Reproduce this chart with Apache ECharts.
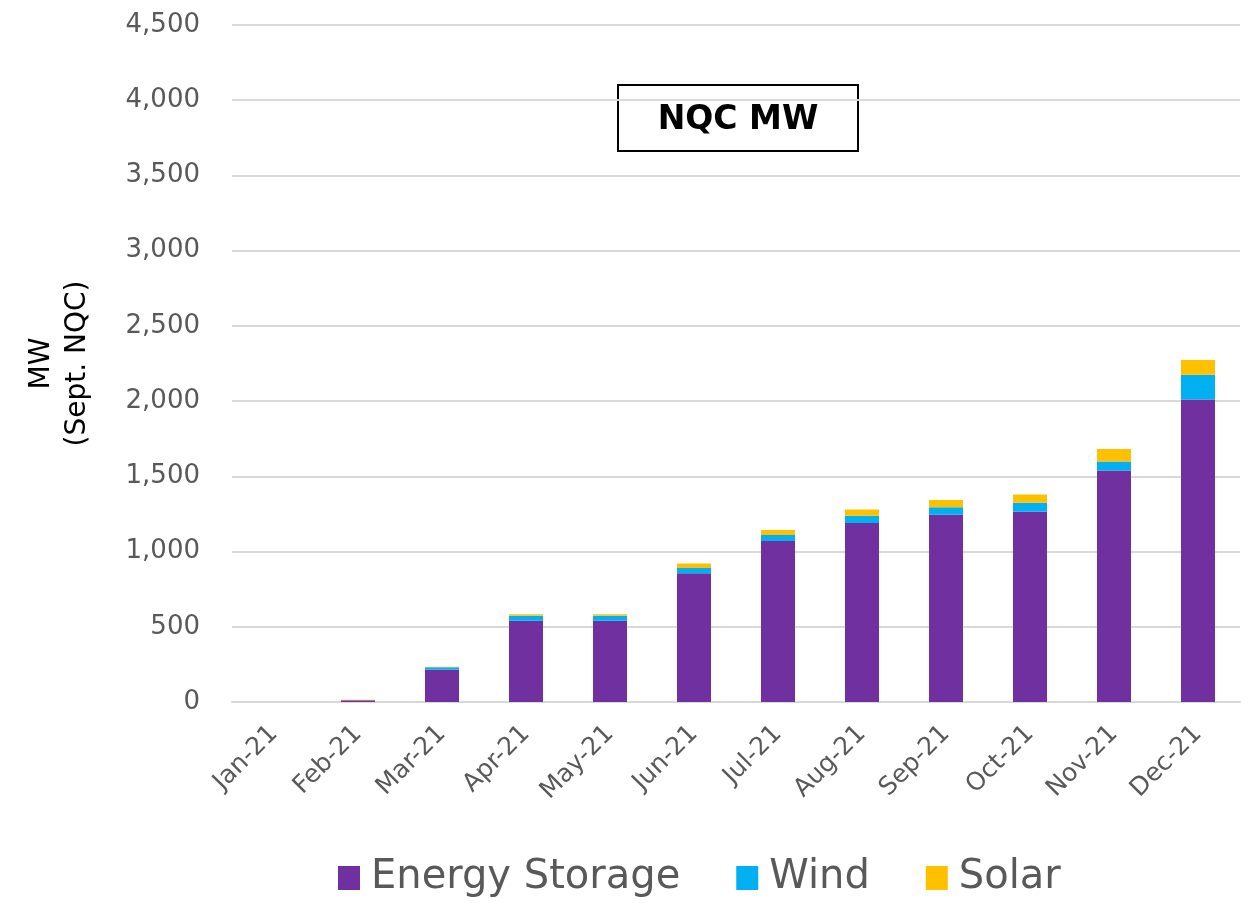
<!DOCTYPE html>
<html>
<head>
<meta charset="utf-8">
<script src="https://cdn.jsdelivr.net/npm/echarts@6/dist/echarts.min.js"></script>
<style>
  html, body { margin: 0; padding: 0; background: #fff; }
  #main { width: 1255px; height: 903px; }
</style>
</head>
<body>
<div id="main"></div>
<script>
// months on the x axis
const months = ['Jan-21', 'Feb-21', 'Mar-21', 'Apr-21', 'May-21', 'Jun-21',
  'Jul-21', 'Aug-21', 'Sep-21', 'Oct-21', 'Nov-21', 'Dec-21']
// stacked NQC MW by resource type
const energyStorage = [0, 12, 215, 540, 540, 855, 1070, 1190, 1245, 1265, 1538, 2010]
const wind = [0, 0, 16, 33, 33, 35, 40, 48, 50, 60, 60, 166]
const solar = [0, 3, 4, 10, 10, 30, 33, 42, 47, 55, 84, 98]

const fontFam = '"DejaVu Sans", sans-serif'
const gray = '#595959'

function barSeries(name, data, color) {
  return {
    name: name,
    type: 'bar',
    stack: 'total',
    data: data,
    barWidth: 34,
    itemStyle: { color: color },
    emphasis: { disabled: true }
  }
}

const chart = echarts.init(document.getElementById('main'))
chart.setOption({
  animation: false,
  grid: { left: 232, right: 15, top: 25, bottom: 201, containLabel: false },
  legend: {
    bottom: 0,
    left: 333,
    icon: 'rect',
    itemWidth: 22,
    itemHeight: 24,
    itemGap: 56,
    textStyle: { fontFamily: fontFam, fontSize: 40, color: gray, padding: [0, 0, 0, 6] },
    data: ['Energy Storage', 'Wind', 'Solar']
  },
  xAxis: {
    type: 'category',
    data: months,
    axisLine: { lineStyle: { color: '#d9d9d9', width: 2 } },
    axisTick: { length: 10, lineStyle: { color: '#d9d9d9', width: 2 } },
    axisLabel: {
      rotate: 45,
      fontFamily: fontFam,
      fontSize: 25,
      color: gray,
      margin: 28
    }
  },
  yAxis: {
    type: 'value',
    min: 0,
    max: 4500,
    interval: 500,
    name: 'MW\n(Sept. NQC)',
    nameLocation: 'middle',
    nameGap: 136,
    nameRotate: 90,
    nameTextStyle: { fontFamily: fontFam, fontSize: 28, color: '#000', lineHeight: 36 },
    axisLine: { show: false },
    axisTick: { show: false },
    splitLine: { lineStyle: { color: '#d9d9d9', width: 2 } },
    axisLabel: {
      fontFamily: fontFam,
      fontSize: 26,
      color: gray,
      margin: 32,
      formatter: v => v.toLocaleString('en-US')
    }
  },
  graphic: [{
    type: 'group',
    left: 617,
    top: 84,
    children: [
      {
        type: 'rect',
        shape: { x: 0, y: 0, width: 240, height: 66 },
        style: { fill: '#fff', stroke: '#000', lineWidth: 2 }
      },
      {
        type: 'text',
        x: 120,
        y: 35,
        style: {
          text: 'NQC MW',
          font: 'bold 33px ' + fontFam,
          fill: '#000',
          align: 'center',
          verticalAlign: 'middle'
        }
      }
    ]
  }],
  series: [
    barSeries('Energy Storage', energyStorage, '#7030a0'),
    barSeries('Wind', wind, '#00b0f0'),
    barSeries('Solar', solar, '#ffc000')
  ]
})
</script>
</body>
</html>
